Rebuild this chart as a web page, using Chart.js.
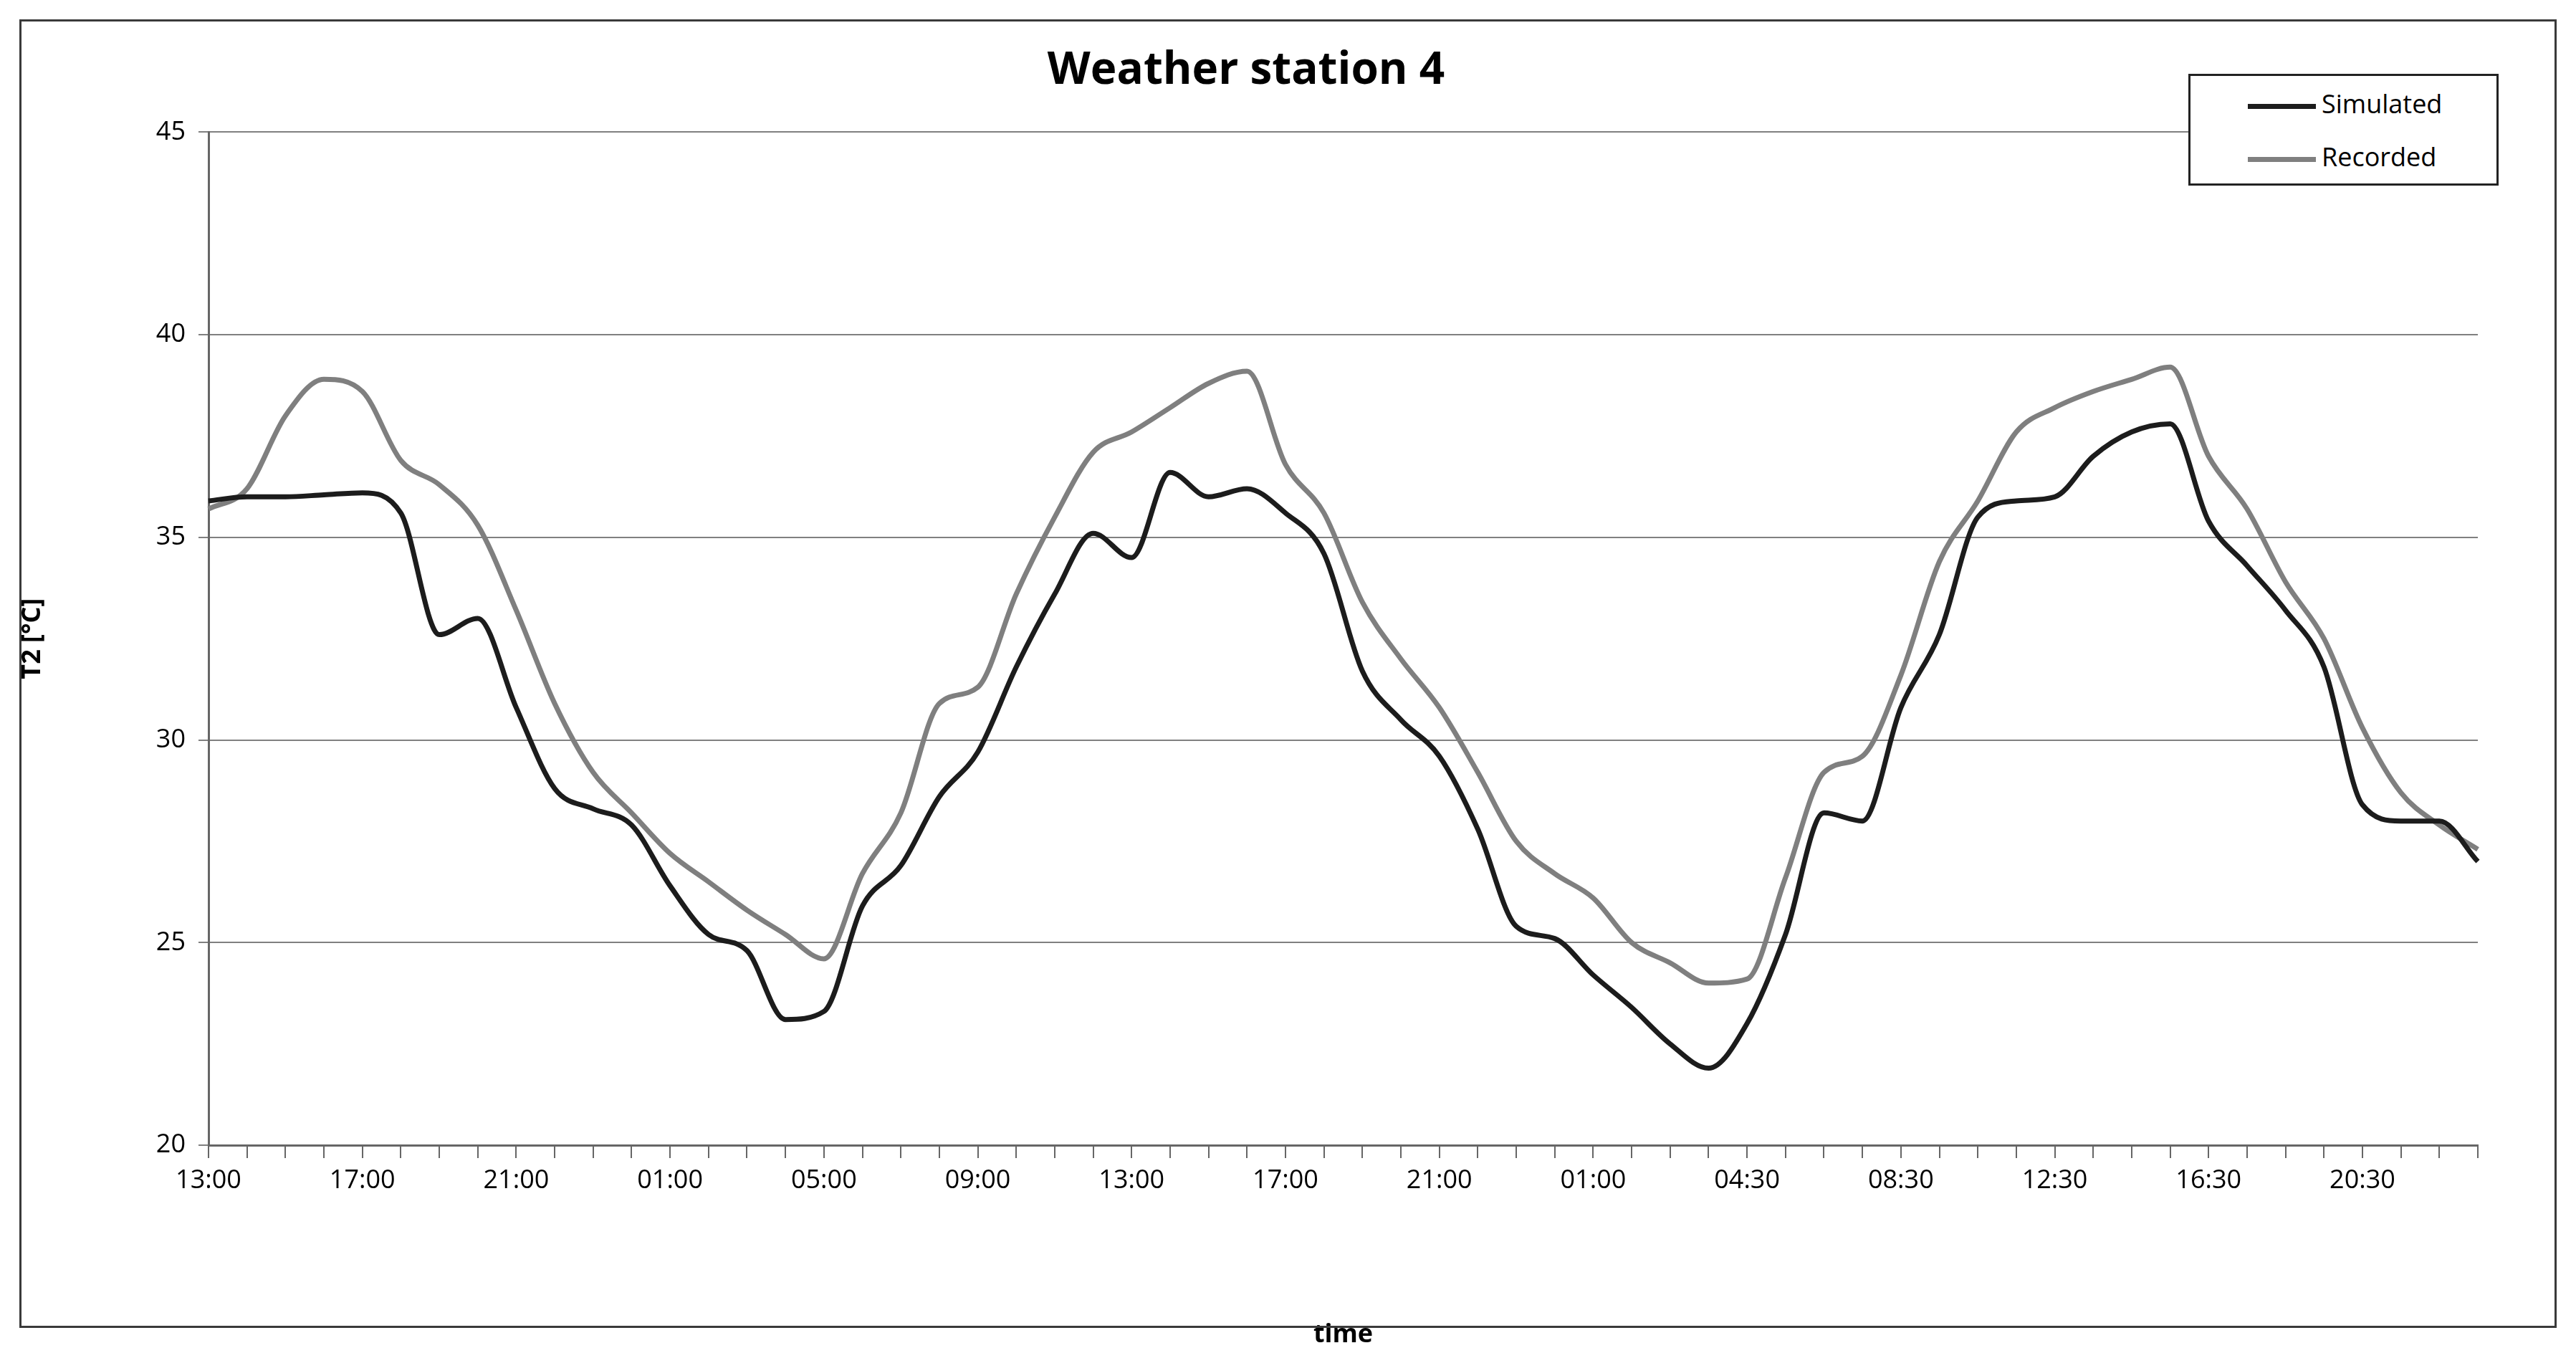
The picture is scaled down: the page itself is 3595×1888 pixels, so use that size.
<!DOCTYPE html>
<html>
<head>
<meta charset="utf-8">
<script src="https://cdn.jsdelivr.net/npm/chart.js@4.4.0/dist/chart.umd.min.js"></script>
<style>
  body { margin: 0; background: #fff; }
  #wrap { position: relative; width: 3595px; height: 1888px; }
  #frame { position: absolute; left: 27px; top: 27px; width: 3535px; height: 1820px; border: 3px solid #3a3a3a; }
  #legend { position: absolute; left: 3054px; top: 103px; width: 427px; height: 150px; border: 3px solid #222; background: #fff;
    font-family: "Liberation Sans Narrow", "Open Sans", sans-serif; font-size: 36px; }
  .item { position: absolute; left: 80px; }
  .sw { display: inline-block; width: 95px; height: 7px; vertical-align: middle; margin-right: 8px; }
</style>
</head>
<body>
<div id="wrap">
  <div id="frame"></div>
  <canvas id="chart" width="3595" height="1888"></canvas>
  <div id="legend">
    <div class="item" style="top:14px"><span class="sw" style="background:#1c1c1c"></span>Simulated</div>
    <div class="item" style="top:88px"><span class="sw" style="background:#7f7f7f"></span>Recorded</div>
  </div>
</div>
<script>
// tick labels, one every 4 steps
const tickLabels = ["13:00","17:00","21:00","01:00","05:00","09:00","13:00","17:00","21:00","01:00","04:30","08:30","12:30","16:30","20:30"];

const simulated = [35.9,36.0,36.0,36.05,36.1,35.6,32.6,33.0,30.8,28.8,
  28.3,27.9,26.4,25.2,24.8,23.1,23.3,25.9,26.9,28.6,
  29.7,31.8,33.6,35.1,34.5,36.6,36.0,36.2,35.6,34.6,
  31.7,30.5,29.6,27.8,25.4,25.1,24.2,23.4,22.5,21.9,
  23.0,25.2,28.2,28.0,30.8,32.6,35.5,35.9,36.0,37.0,
  37.6,37.8,35.4,34.3,33.2,31.8,28.4,28.0,28.0,27.0];

const recorded = [35.7,36.2,38.0,38.9,38.6,36.9,36.3,35.3,33.2,30.9,
  29.2,28.2,27.2,26.5,25.8,25.2,24.6,26.7,28.2,30.9,
  31.3,33.6,35.5,37.1,37.6,38.2,38.8,39.1,36.8,35.6,
  33.4,32.0,30.8,29.2,27.5,26.7,26.1,25.0,24.5,24.0,
  24.1,26.6,29.2,29.6,31.6,34.4,35.9,37.6,38.2,38.6,
  38.9,39.2,37.0,35.7,33.9,32.5,30.3,28.7,27.9,27.3];

const xLabels = simulated.map((v, i) => (i % 4 == 0 && tickLabels[i / 4]) ? tickLabels[i / 4] : "");

const fontFam = '"Liberation Sans Narrow", "Open Sans", sans-serif';

new Chart(document.getElementById('chart'), {
  type: 'line',
  data: {
    labels: xLabels,
    datasets: [
      { label: 'Simulated', data: simulated, borderColor: '#1c1c1c', borderWidth: 7, pointRadius: 0, cubicInterpolationMode: 'monotone' },
      { label: 'Recorded', data: recorded, borderColor: '#7f7f7f', borderWidth: 7, pointRadius: 0, cubicInterpolationMode: 'monotone' }
    ]
  },
  options: {
    responsive: false,
    animation: false,
    layout: { padding: { top: 0, right: 137, left: 20, bottom: 0 } },
    plugins: {
      legend: { display: false },
      tooltip: { enabled: false },
      title: { display: true, text: 'Weather station 4', color: '#000',
        font: { family: '"Open Sans", sans-serif', size: 62, weight: 'bold' }, padding: { top: 62, bottom: 48 } }
    },
    scales: {
      x: {
        offset: false,
        grid: { drawOnChartArea: false, color: '#666', lineWidth: 2, tickLength: 18 },
        border: { color: '#666', width: 3 },
        ticks: { autoSkip: false, maxRotation: 0, color: '#000', padding: 10,
          font: { family: fontFam, size: 36 } },
        title: { display: true, text: 'time', color: '#000', font: { family: fontFam, size: 36, weight: 'bold' }, padding: { top: 4 } },
        afterFit: s => { s.height = 290; }
      },
      y: {
        min: 20, max: 45,
        ticks: { stepSize: 5, color: '#000', padding: 18, font: { family: fontFam, size: 36 } },
        grid: { color: '#808080', lineWidth: 2, tickLength: 14 },
        border: { color: '#666', width: 3 },
        title: { display: true, text: 'T2 [°C]', color: '#000', font: { family: fontFam, size: 36, weight: 'bold' }, padding: { bottom: 40 } },
        afterFit: s => { s.width = 271; }
      }
    }
  }
});
</script>
</body>
</html>
